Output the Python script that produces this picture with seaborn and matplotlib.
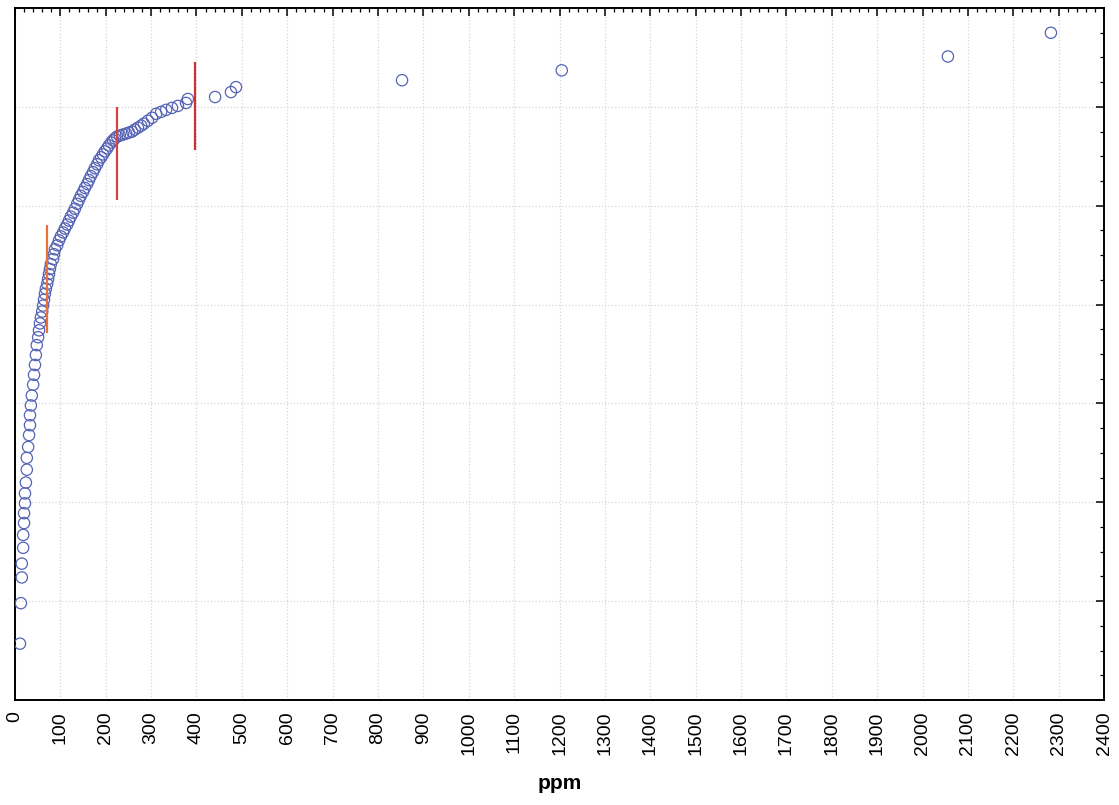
import matplotlib
matplotlib.use("Agg")
import matplotlib.pyplot as plt
import seaborn as sns
import pandas as pd
from matplotlib.ticker import MultipleLocator, NullFormatter

# ---- data ----
ppm = [11, 13, 15, 15, 18, 18, 20, 20, 22, 22,
       24, 26, 26, 29, 31, 33, 33, 35, 37, 40,
       42, 44, 46, 48, 51, 53, 55, 57, 60, 62,
       64, 66, 68, 71, 73, 75, 77, 79, 84, 86,
       88, 93, 97, 101, 106, 110, 115, 119, 123, 128,
       132, 137, 141, 145, 150, 154, 159, 163, 167, 172,
       176, 181, 185, 190, 194, 198, 203, 207, 212, 216,
       220, 225, 231, 238, 245, 251, 258, 264, 271, 278,
       284, 293, 302, 311, 322, 333, 346, 359, 377, 381,
       441, 476, 487, 853, 1205, 2056, 2283]
score = [0.57, 0.98, 1.24, 1.38, 1.54, 1.67, 1.79, 1.89, 1.99, 2.09,
         2.20, 2.33, 2.45, 2.56, 2.68, 2.78, 2.88, 2.98, 3.08, 3.19,
         3.29, 3.39, 3.49, 3.59, 3.67, 3.74, 3.81, 3.87, 3.93, 3.99,
         4.05, 4.11, 4.16, 4.21, 4.26, 4.31, 4.36, 4.41, 4.46, 4.51,
         4.56, 4.60, 4.65, 4.69, 4.73, 4.77, 4.81, 4.85, 4.89, 4.93,
         4.97, 5.02, 5.06, 5.10, 5.14, 5.18, 5.22, 5.26, 5.30, 5.34,
         5.38, 5.42, 5.46, 5.49, 5.52, 5.55, 5.58, 5.61, 5.64, 5.66,
         5.68, 5.70, 5.71, 5.72, 5.73, 5.74, 5.75, 5.77, 5.79, 5.81,
         5.83, 5.86, 5.89, 5.93, 5.95, 5.97, 5.99, 6.01, 6.04, 6.08,
         6.10, 6.15, 6.20, 6.27, 6.37, 6.51, 6.75]

# threshold markers (vertical red segments)
thr_x = [70, 225, 397]
thr_lo = [3.71, 5.06, 5.56]
thr_hi = [4.81, 6.00, 6.45]
thr_col = ["#e8703a", "#d94040", "#d23030"]

df = pd.DataFrame({"ppm": ppm, "score": score})

sns.set_style("white")
plt.rcParams["font.family"] = ["Liberation Sans", "DejaVu Sans"]
plt.rcParams["text.color"] = "black"
plt.rcParams["axes.labelcolor"] = "black"
plt.rcParams["xtick.color"] = "black"
plt.rcParams["ytick.color"] = "black"

fig = plt.figure(figsize=(11.19, 8.05), dpi=100)
ax = fig.add_axes([0.0134, 0.1304, 0.9732, 0.8596])

ax.grid(True, which="major", color="#d6d6d6", linestyle=":", linewidth=0.9)
ax.set_axisbelow(True)

sns.scatterplot(data=df, x="ppm", y="score", ax=ax, s=66,
                facecolors="none", edgecolor="#5563b5", linewidth=0.9,
                marker="o", zorder=3)

ax.vlines(thr_x, thr_lo, thr_hi, colors=thr_col, linewidth=1.6, zorder=4)

ax.set_xlim(0, 2400)
ax.set_ylim(0, 7)
ax.xaxis.set_major_locator(MultipleLocator(100))
ax.xaxis.set_minor_locator(MultipleLocator(20))
ax.yaxis.set_major_locator(MultipleLocator(1))
ax.yaxis.set_minor_locator(MultipleLocator(0.25))
ax.yaxis.set_major_formatter(NullFormatter())

ax.tick_params(axis="both", which="major", direction="in", length=6, width=1.1,
               top=True, right=True, color="black")
ax.tick_params(axis="both", which="minor", direction="in", length=3, width=0.9,
               top=True, right=True, color="black")
ax.tick_params(axis="x", which="major", labelsize=14, labelrotation=90, pad=8,
               labelcolor="black")
ax.tick_params(axis="y", which="both", labelleft=False)

for sp in ax.spines.values():
    sp.set_visible(True)
    sp.set_color("black")
    sp.set_linewidth(1.4)

ax.set_xlabel("ppm", fontsize=15, fontweight="bold", labelpad=14, color="black")
ax.set_ylabel("")

fig.savefig("out.png", dpi=100)
